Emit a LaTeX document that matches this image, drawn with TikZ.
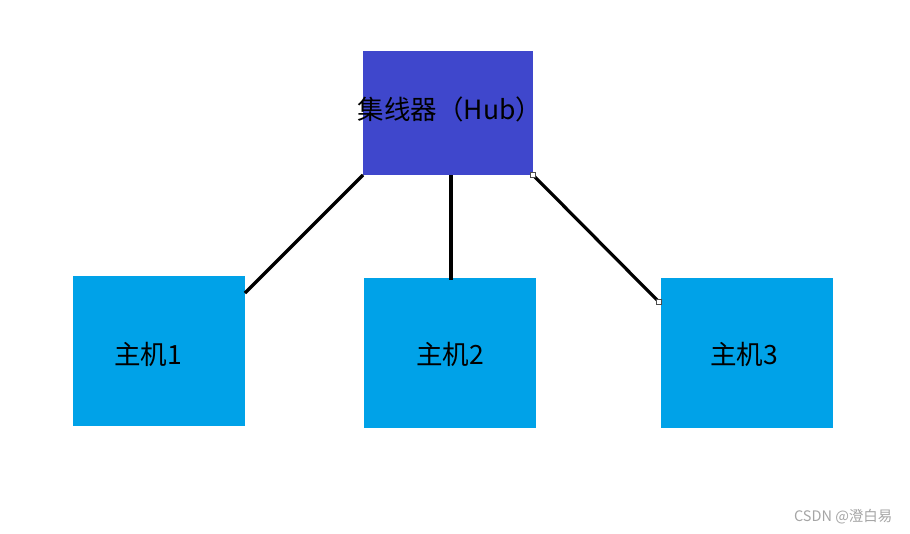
\documentclass[tikz,border=0pt]{standalone}
\usepackage{fontspec}
\setmainfont{Noto Sans CJK SC}
\definecolor{hubblue}{RGB}{63,71,204}
\definecolor{hostblue}{RGB}{0,162,232}
\definecolor{wmgray}{RGB}{165,165,165}
\begin{document}
\begin{tikzpicture}[x=1pt,y=-1pt,
  hubbox/.style={fill=hubblue,draw=none,minimum width=170pt,minimum height=124pt,inner sep=0pt},
  hostbox/.style={fill=hostblue,draw=none,minimum width=172pt,minimum height=150pt,inner sep=0pt},
  lbl/.style={font=\fontsize{26.5}{30}\selectfont,text=black},
  link/.style={line width=3.2pt,black},
  handle/.style={draw=black!70,fill=white,line width=0.6pt,minimum size=5pt,inner sep=0pt}]
\useasboundingbox (0,0) rectangle (910,533);
\node[hubbox] (hub) at (448,113) {};
\node[lbl] (hubtext) at (450,109) {集线器（Hub）};
\node[hostbox] (h1) at (159,351) {};
\node[hostbox] (h2) at (450,353) {};
\node[hostbox] (h3) at (747,353) {};
\node[lbl] (t1) at (148,354) {主机1};
\node[lbl] (t2) at (450,354) {主机2};
\node[lbl] (t3) at (744,354) {主机3};
\coordinate (a1) at (363,175);
\coordinate (b1) at (245,293);
\coordinate (a2) at (451,175);
\coordinate (b2) at (451,280);
\coordinate (a3) at (533,175);
\coordinate (b3) at (659,302);
\draw[link] (a1) -- (b1);
\draw[link] (a2) -- (b2);
\draw[link] (a3) -- (b3);
\node[handle] (s1) at (a3) {};
\node[handle] (s2) at (b3) {};
\node[anchor=east,text=wmgray,font=\fontsize{14.5}{17}\selectfont] (wm) at (896,517) {CSDN @澄白易};
\end{tikzpicture}
\end{document}
